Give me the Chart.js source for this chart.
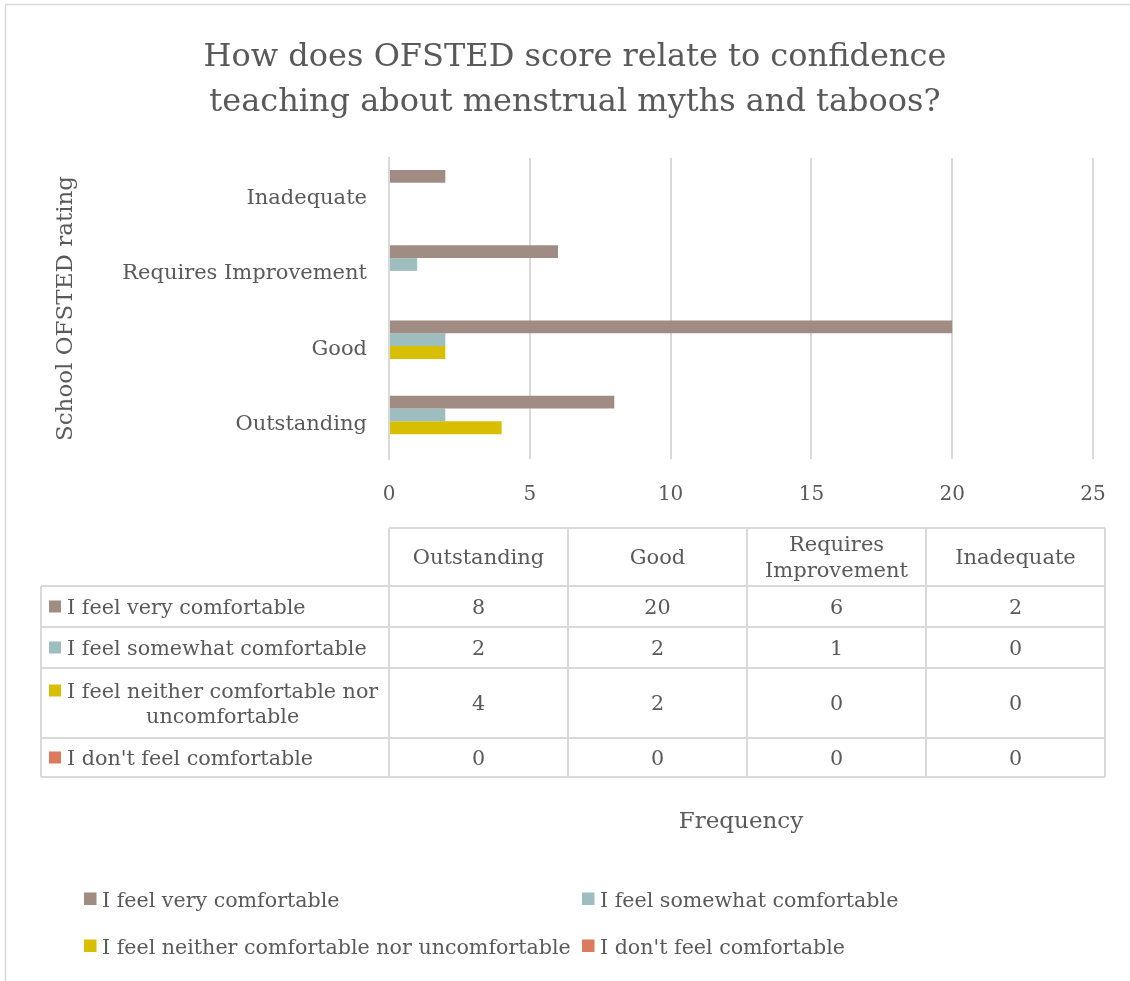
<!DOCTYPE html>
<html>
<head>
<meta charset="utf-8">
<script src="https://cdn.jsdelivr.net/npm/chart.js@4.4.1/dist/chart.umd.min.js"></script>
<style>
  html, body { margin: 0; padding: 0; background: #ffffff; }
  #wrap { position: relative; width: 1130px; height: 981px; }
  canvas { display: block; }
</style>
</head>
<body>
<div id="wrap"><canvas id="chart" width="1130" height="981"></canvas></div>
<script>
// School OFSTED ratings (table column order; Outstanding is drawn at the bottom)
const categories = ['Outstanding', 'Good', 'Requires Improvement', 'Inadequate'];
const categoryHeaders = [['Outstanding'], ['Good'], ['Requires', 'Improvement'], ['Inadequate']];

// Responses per rating
const seriesLabels = [
  'I feel very comfortable',
  'I feel somewhat comfortable',
  'I feel neither comfortable nor uncomfortable',
  "I don't feel comfortable"
];
const veryComfortable     = [8, 20, 6, 2];
const somewhatComfortable = [2, 2, 1, 0];
const neitherComfortable  = [4, 2, 0, 0];
const notComfortable      = [0, 0, 0, 0];

// Frequency axis
const freqMin = 0;
const freqMax = 25;
const freqStep = 5;

const seriesColors = ['#A08C82', '#9DBDBF', '#D7BF00', '#DB7A5D'];
const seriesValues = [veryComfortable, somewhatComfortable, neitherComfortable, notComfortable];

const FONT = "'DejaVu Serif', Georgia, serif";
const TEXT = '#595959';
const RULE = '#D9D9D9';

// Data table + legend drawn under the plot, fed from the chart's datasets
const tablePlugin = {
  id: 'dataTableAndLegend',
  afterDraw(chart) {
    const ctx = chart.ctx;
    const area = chart.chartArea;
    const ds = chart.data.datasets;
    const colW = 179;
    const x0 = area.left;
    const xs = [0, 1, 2, 3, 4].map(i => x0 + i * colW);
    const labelLeft = 41;
    const rows = [528, 586, 627, 668, 738, 777];

    ctx.save();
    // outer frame of the chart
    ctx.strokeStyle = RULE;
    ctx.lineWidth = 1.5;
    ctx.beginPath();
    ctx.moveTo(5.5, 981); ctx.lineTo(5.5, 4.5); ctx.lineTo(1130, 4.5);
    ctx.stroke();

    // table rules
    ctx.lineWidth = 2;
    ctx.beginPath();
    ctx.moveTo(xs[0], rows[0]); ctx.lineTo(xs[4], rows[0]);
    for (let r = 1; r < rows.length; r++) {
      ctx.moveTo(labelLeft, rows[r]); ctx.lineTo(xs[4], rows[r]);
    }
    ctx.moveTo(labelLeft, rows[1]); ctx.lineTo(labelLeft, rows[5]);
    for (let c = 0; c < xs.length; c++) {
      ctx.moveTo(xs[c], rows[0]); ctx.lineTo(xs[c], rows[5]);
    }
    ctx.stroke();

    ctx.fillStyle = TEXT;
    ctx.textBaseline = 'middle';
    // header row
    ctx.font = '21px ' + FONT;
    ctx.textAlign = 'center';
    categoryHeaders.forEach((lines, c) => {
      const cx = xs[c] + colW / 2;
      const cy = (rows[0] + rows[1]) / 2 + 2;
      const lh = 26;
      lines.forEach((t, i) => {
        ctx.fillText(t, cx, cy + (i - (lines.length - 1) / 2) * lh);
      });
    });
    // body rows
    ctx.font = '20.7px ' + FONT;
    const rowLabelLines = [
      [ds[0].label], [ds[1].label],
      ['I feel neither comfortable nor', 'uncomfortable'], [ds[3].label]
    ];
    ds.forEach((d, r) => {
      const top = rows[r + 1], bot = rows[r + 2];
      const cy = (top + bot) / 2 + 2;
      d.data.forEach((v, c) => {
        ctx.fillStyle = TEXT;
        ctx.textAlign = 'center';
        ctx.fillText(String(v), xs[c] + colW / 2, cy);
      });
      const lines = rowLabelLines[r];
      const lh = 25;
      const firstY = cy - (lines.length - 1) * lh / 2;
      ctx.fillStyle = d.backgroundColor;
      ctx.fillRect(49, firstY - 8, 12, 12);
      ctx.fillStyle = TEXT;
      ctx.textAlign = 'left';
      ctx.fillText(lines[0], 67, firstY);
      if (lines.length > 1) {
        const w0 = ctx.measureText(lines[0]).width;
        ctx.textAlign = 'center';
        ctx.fillText(lines[1], 67 + w0 / 2, firstY + lh);
      }
    });

    // legend, two columns
    ctx.font = '20.6px ' + FONT;
    ctx.textAlign = 'left';
    const legPos = [[84, 902], [582, 902], [84, 949], [582, 949]];
    ds.forEach((d, i) => {
      const [lx, ly] = legPos[i];
      ctx.fillStyle = d.backgroundColor;
      ctx.fillRect(lx, ly - 9.5, 12.5, 12.5);
      ctx.fillStyle = TEXT;
      ctx.fillText(d.label, lx + 18, ly);
    });
    ctx.restore();
  }
};

const chart = new Chart(document.getElementById('chart'), {
  type: 'bar',
  data: {
    labels: categories,
    datasets: seriesLabels.map((label, i) => ({
      label,
      data: seriesValues[i],
      backgroundColor: seriesColors[i],
      borderWidth: 0,
      categoryPercentage: 0.68,
      barPercentage: 1.0
    }))
  },
  options: {
    indexAxis: 'y',
    responsive: false,
    animation: false,
    layout: { padding: { left: 57, right: 37, top: 0, bottom: 0 } },
    plugins: {
      legend: { display: false },
      tooltip: { enabled: false },
      title: {
        display: true,
        text: ['How does OFSTED score relate to confidence', 'teaching about menstrual myths and taboos?'],
        color: TEXT,
        font: { family: FONT, size: 32, weight: 'normal', lineHeight: 1.406 },
        padding: { top: 35, bottom: 33 }
      }
    },
    scales: {
      x: {
        min: freqMin,
        max: freqMax,
        ticks: { stepSize: freqStep, color: TEXT, padding: 24, font: { family: FONT, size: 20 } },
        grid: { color: RULE, lineWidth: 2, drawTicks: false },
        border: { display: false },
        title: {
          display: true,
          text: 'Frequency',
          color: TEXT,
          font: { family: FONT, size: 23 },
          padding: { top: 0, bottom: 145 }
        },
        afterFit(scale) { scale.height = 522; }
      },
      y: {
        reverse: true,
        ticks: { color: TEXT, padding: 22, labelOffset: 3, font: { family: FONT, size: 21 } },
        grid: { display: false, drawTicks: false },
        border: { display: true, color: RULE, width: 2 },
        title: {
          display: true,
          text: 'School OFSTED rating',
          color: TEXT,
          font: { family: FONT, size: 23, lineHeight: 0.75 },
          padding: { top: 0, bottom: 0 }
        },
        afterFit(scale) { scale.width = 332; }
      }
    }
  },
  plugins: [tablePlugin]
});
</script>
</body>
</html>
